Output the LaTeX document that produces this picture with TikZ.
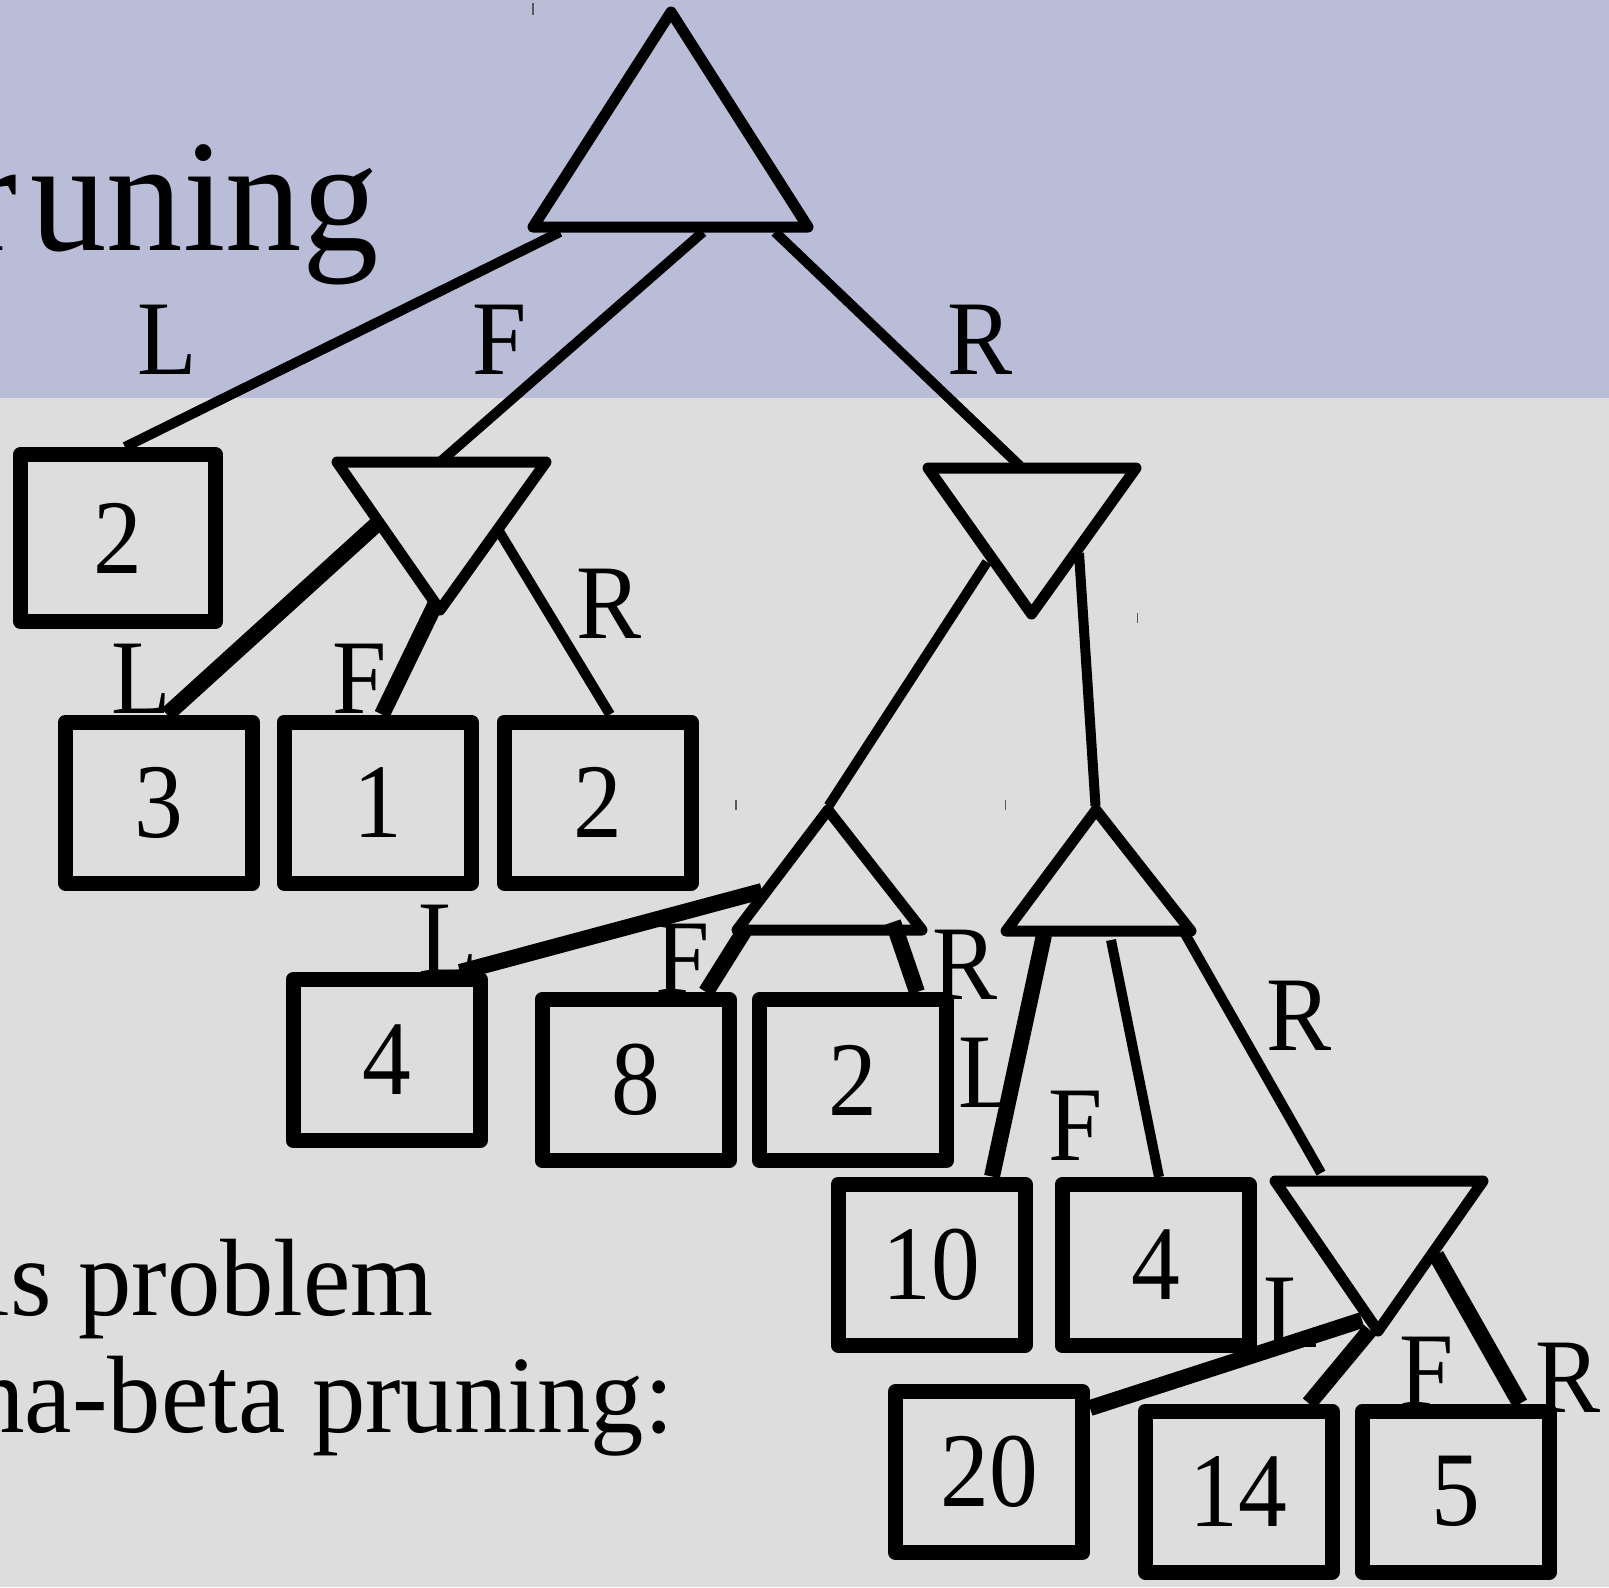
\documentclass[tikz,border=0pt]{standalone}
\usepackage{fontspec}
\setmainfont{Liberation Serif}
\usepackage{graphicx}
\definecolor{topbg}{RGB}{185,189,216}
\definecolor{botbg}{RGB}{221,221,221}
\definecolor{tickgray}{RGB}{90,90,90}
\tikzset{
  box/.style={draw=black, line width=7.5pt, line join=round, minimum width=93.5pt,
    minimum height=80.5pt, inner sep=0pt, outer sep=3.75pt, font=\fontsize{53}{60}\selectfont},
  boxA/.style={box, minimum width=97.5pt, minimum height=83.5pt},
  tri/.style={draw=black, line width=5.5pt, line join=round},
  edgethin/.style={draw=black, line width=5pt},
  edgethick/.style={draw=black, line width=8pt},
  lbl/.style={inner sep=0pt, font=\fontsize{53}{60}\selectfont},
  tickmark/.style={draw=tickgray, line width=0.75pt},
}
\begin{document}
\begin{tikzpicture}[x=0.5pt,y=-0.5pt]
\useasboundingbox (0,0) rectangle (1609,1587);
\clip (0,0) rectangle (1609,1587);
\fill[botbg] (0,0) rectangle (1609,1587);
\fill[topbg] (0,0) rectangle (1609,398);

% texts
\node[anchor=base west, inner sep=0pt, font=\fontsize{80}{90}\selectfont] (title) at (-34,250) {\scalebox{0.955}[1]{r\kern7pt uning}};
\node[anchor=base west, inner sep=0pt, font=\fontsize{55}{60}\selectfont] (line1) at (-20,1315) {\scalebox{0.97}[1]{is problem}};
\node[anchor=base west, inner sep=0pt, font=\fontsize{55}{60}\selectfont] (line2) at (-29,1432) {\scalebox{0.97}[1]{ha-beta pruning:}};

% edge labels
\node[lbl] (l0L) at (167.5,340) {\scalebox{0.92}[1]{L}};
\node[lbl] (l0F) at (500,340) {\scalebox{0.92}[1]{F}};
\node[lbl] (l0R) at (980,340) {\scalebox{0.92}[1]{R}};
\node[lbl] (l1L) at (141.5,679) {\scalebox{0.92}[1]{L}};
\node[lbl] (l1F) at (359.5,679) {\scalebox{0.92}[1]{F}};
\node[lbl] (l1R) at (609,604) {\scalebox{0.92}[1]{R}};
\node[lbl] (l3L) at (448,940) {\scalebox{0.92}[1]{L}};
\node[lbl] (l3F) at (682.5,959) {\scalebox{0.92}[1]{F}};
\node[lbl] (l3R) at (965,965) {\scalebox{0.92}[1]{R}};
\node[lbl] (l4L) at (988.5,1073) {\scalebox{0.92}[1]{L}};
\node[lbl] (l4F) at (1076,1126) {\scalebox{0.92}[1]{F}};
\node[lbl] (l4R) at (1299,1016) {\scalebox{0.92}[1]{R}};
\node[lbl] (l5L) at (1293.5,1313) {\scalebox{0.92}[1]{L}};
\node[lbl] (l5F) at (1427,1372) {\scalebox{0.92}[1]{F}};
\node[lbl] (l5R) at (1568,1378) {\scalebox{0.92}[1]{R}};

% leaf boxes
\node[boxA] (bA) at (118,538) {\scalebox{0.92}[1]{2}};
\node[box] (b3) at (159,802.5) {\scalebox{0.92}[1]{3}};
\node[box] (b1) at (377.5,802.5) {\scalebox{0.92}[1]{1}};
\node[box] (b2b) at (597.5,802.5) {\scalebox{0.92}[1]{2}};
\node[box] (b4) at (386.5,1060) {\scalebox{0.92}[1]{4}};
\node[box] (b8) at (635.5,1080) {\scalebox{0.92}[1]{8}};
\node[box] (b2c) at (853,1080) {\scalebox{0.92}[1]{2}};
\node[box] (b10) at (931.5,1264.5) {\scalebox{0.92}[1]{10}};
\node[box] (b4b) at (1155.5,1265) {\scalebox{0.92}[1]{4}};
\node[box] (b20) at (989,1472) {\scalebox{0.92}[1]{20}};
\node[box] (b14) at (1238.5,1491.5) {\scalebox{0.92}[1]{14}};
\node[box] (b5) at (1456,1491.5) {\scalebox{0.92}[1]{5}};

% triangle vertices
\coordinate (rA) at (671,12);   \coordinate (rL) at (533,227);   \coordinate (rR) at (808,227);
\coordinate (m1L) at (337,462); \coordinate (m1R) at (546,462);  \coordinate (m1B) at (440,610);
\coordinate (m2L) at (928,468); \coordinate (m2R) at (1136,468); \coordinate (m2B) at (1031.5,614);
\coordinate (x3A) at (828,810); \coordinate (x3L) at (737,930);  \coordinate (x3R) at (922,930);
\coordinate (x4A) at (1096,810);\coordinate (x4L) at (1006,931); \coordinate (x4R) at (1191,931);
\coordinate (m3L) at (1275,1181);\coordinate (m3R) at (1483,1181);\coordinate (m3B) at (1378,1331);

\draw[tri] (rA) -- (rR) -- (rL) -- cycle;
\draw[tri] (m1L) -- (m1R) -- (m1B) -- cycle;
\draw[tri] (m2L) -- (m2R) -- (m2B) -- cycle;
\draw[tri] (x3A) -- (x3R) -- (x3L) -- cycle;
\draw[tri] (x4A) -- (x4R) -- (x4L) -- cycle;
\draw[tri] (m3L) -- (m3R) -- (m3B) -- cycle;

% edge start points on the triangles
\coordinate (e1s) at (560,232);
\coordinate (e2s) at (703,232);  \coordinate (e2e) at (440,462);
\coordinate (e3s) at (775,232);  \coordinate (e3e) at (1020,466);
\coordinate (e4s) at (378,523);
\coordinate (e5s) at (435,605);
\coordinate (e6s) at (499.5,532);
\coordinate (e7s) at (987,562);  \coordinate (e7e) at (828.5,806);
\coordinate (e8s) at (1079,553); \coordinate (e8e) at (1095.5,806);
\coordinate (e9s) at (762,891);
\coordinate (e10s) at (748,925);
\coordinate (e11s) at (893,922);
\coordinate (e12s) at (1044,935);
\coordinate (e13s) at (1111,940);
\coordinate (e14s) at (1184,932); \coordinate (e14e) at (1321,1173);
\coordinate (e15s) at (1362,1320);
\coordinate (e16s) at (1370,1330);
\coordinate (e17s) at (1436,1255);

% edges
\draw[edgethin]  (e1s) -- ([xshift=3.5pt]bA.north);
\draw[edgethin]  (e2s) -- (e2e);
\draw[edgethin]  (e3s) -- (e3e);
\draw[edgethick] (e4s) -- ([xshift=4pt]b3.north);
\draw[edgethick] (e5s) -- ([xshift=2.25pt]b1.north);
\draw[edgethin]  (e6s) -- ([xshift=6.25pt]b2b.north);
\draw[edgethin]  (e7s) -- (e7e);
\draw[edgethin]  (e8s) -- (e8e);
\draw[edgethick] (e9s) -- ([xshift=36.75pt]b4.north);
\draw[edgethick] (e10s) -- ([xshift=35.25pt]b8.north);
\draw[edgethick] (e11s) -- ([xshift=32pt]b2c.north);
\draw[edgethick] (e12s) -- ([xshift=30.25pt]b10.north);
\draw[edgethin]  (e13s) -- ([xshift=1.75pt]b4b.north);
\draw[edgethin]  (e14s) -- (e14e);
\draw[edgethick] (e15s) -- ([yshift=32pt]b20.east);
\draw[edgethick] (e16s) -- ([xshift=35.25pt]b14.north);
\draw[edgethick] (e17s) -- ([xshift=32pt]b5.north);

% small tick marks
\draw[tickmark] (533,3) -- (533,15);
\draw[tickmark] (736,800) -- (736,810);
\draw[tickmark] (1005.5,800) -- (1005.5,810);
\draw[tickmark] (1137.5,613) -- (1137.5,623);
\end{tikzpicture}
\end{document}
